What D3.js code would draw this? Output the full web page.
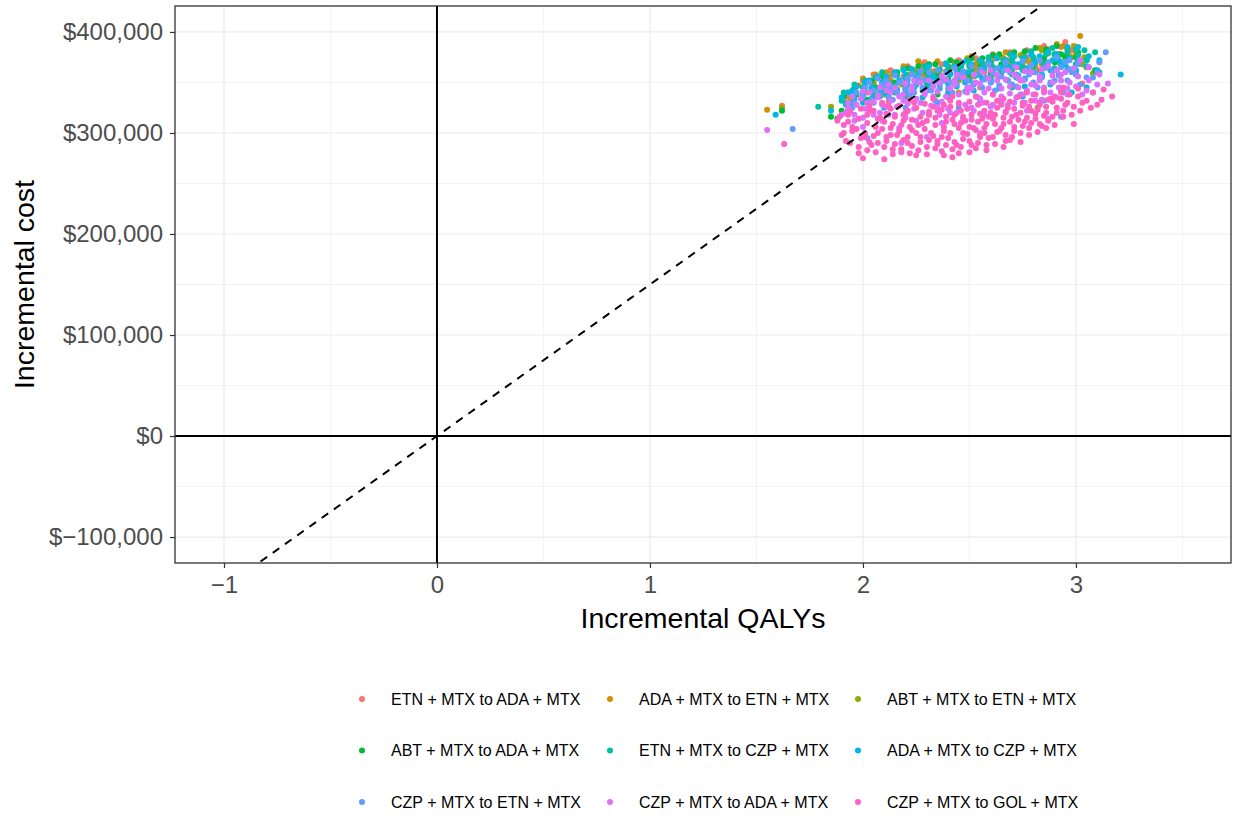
<!doctype html>
<html>
	<head>
		<meta charset="utf-8">
		<title>Incremental cost-effectiveness plane</title>
		<script src="https://d3js.org/d3.v7.min.js"></script>
		<style>
		body { margin: 0; background: #fff; }
		svg { font-family: "Liberation Sans", Arial, Helvetica, sans-serif; }
		</style>
	</head>
	<body>
		<svg id="chart" width="1235" height="824"></svg>
		<script>
		// comparisons, in legend order (ggplot hue palette)
		var comparisons = [
			"ETN + MTX to ADA + MTX", "ADA + MTX to ETN + MTX", "ABT + MTX to ETN + MTX",
			"ABT + MTX to ADA + MTX", "ETN + MTX to CZP + MTX", "ADA + MTX to CZP + MTX",
			"CZP + MTX to ETN + MTX", "CZP + MTX to ADA + MTX", "CZP + MTX to GOL + MTX"
		];
		var colors = ["#F8766D", "#D39200", "#93AA00", "#00BA38", "#00C19F", "#00B9E3", "#619CFF", "#DB72FB", "#FF61C3"];

		// [incremental QALYs, incremental cost in $ thousands]
		var etnToAda = [[1.62,327],[1.95,340],[2.01,347],[2.06,338],[2.10,350],[2.15,348],[2.19,356],[2.22,364],[2.27,352],[2.32,360],[2.36,354],[2.39,361],[2.44,366],[2.48,358],[2.53,368],[2.57,360],[2.61,373],[2.66,364],[2.70,368],[2.77,375],[2.81,366],[2.87,383],[2.91,372],[2.95,390],[3.00,378],[3.03,349],[2.55,345],[2.12,331],[2.74,352],
			[1.92,336],[2.00,352],[2.04,344],[2.05,358],[2.12,356],[2.13,362],[2.20,350],[2.21,366],[2.28,362],[2.29,370],[2.36,358],[2.37,368],[2.44,362],[2.45,372],[2.52,356],[2.53,374],[2.60,366],[2.61,378],[2.68,372],[2.69,380],[2.76,364],[2.77,382],[2.84,374],[2.85,386],[2.92,378],[2.93,385],[2.98,382]];
		var adaToEtn = [[1.55,323],[1.98,347],[2.02,340],[2.08,345],[2.13,352],[2.18,348],[2.22,358],[2.26,371],[2.30,355],[2.33,361],[2.38,352],[2.42,365],[2.46,358],[2.49,374],[2.53,362],[2.58,368],[2.62,358],[2.65,375],[2.70,373],[2.74,365],[2.78,370],[2.82,362],[2.86,380],[2.90,372],[2.94,386],[2.98,375],[3.02,396],[3.05,365],[2.45,340],[1.94,334],
			[1.92,330],[1.93,340],[2.00,354],[2.05,350],[2.06,358],[2.12,344],[2.11,360],[2.20,352],[2.19,366],[2.28,358],[2.27,368],[2.36,362],[2.35,371],[2.44,355],[2.43,370],[2.52,366],[2.51,376],[2.60,362],[2.59,374],[2.68,368],[2.67,380],[2.76,372],[2.75,378],[2.84,368],[2.83,384],[2.92,378],[2.91,388],[3.00,380],[2.99,386]];
		var abtToEtn = [[1.62,325],[1.85,326],[1.93,322],[2.00,335],[2.05,342],[2.10,338],[2.15,348],[2.20,343],[2.25,352],[2.30,346],[2.35,356],[2.40,350],[2.45,360],[2.50,354],[2.55,364],[2.60,357],[2.65,367],[2.70,360],[2.75,370],[2.80,363],[2.82,325],[2.87,379],[2.92,370],[2.97,376],[3.03,368],[3.08,359],[2.40,335],
			[1.95,332],[1.96,342],[2.05,348],[2.06,355],[2.15,345],[2.14,358],[2.25,348],[2.24,362],[2.35,360],[2.34,368],[2.45,352],[2.46,366],[2.55,358],[2.54,370],[2.65,361],[2.66,374],[2.75,366],[2.74,377],[2.85,370],[2.84,382],[2.95,374],[2.96,383],[3.05,365],[3.04,375]];
		var abtToAda = [[1.62,322],[1.85,316],[1.88,314],[1.92,330],[1.97,338],[2.02,333],[2.06,345],[2.11,350],[2.15,340],[2.20,355],[2.25,348],[2.30,360],[2.35,352],[2.40,362],[2.45,356],[2.50,366],[2.55,358],[2.60,368],[2.65,360],[2.70,372],[2.75,364],[2.80,374],[2.85,366],[2.90,378],[2.93,378],[2.95,370],[3.00,375],[3.09,362],[2.93,343],[2.35,338],
			[1.90,322],[1.91,336],[1.95,328],[1.96,345],[2.00,340],[2.01,350],[2.05,336],[2.04,352],[2.10,344],[2.09,356],[2.15,350],[2.16,360],[2.20,346],[2.21,364],[2.25,355],[2.26,366],[2.30,350],[2.31,368],[2.35,358],[2.34,368],[2.40,354],[2.41,372],[2.45,362],[2.44,370],[2.50,358],[2.51,374],[2.55,365],[2.56,374],[2.60,360],[2.61,377],[2.65,368],[2.64,378],[2.70,364],[2.71,380],[2.75,371],[2.76,381],[2.80,367],[2.81,384],[2.85,374],[2.86,383],[2.90,370],[2.91,386],[2.95,376],[2.96,384],[3.00,368],[3.01,380],[3.05,372]];
		var etnToCzp = [[1.79,326],[1.95,330],[2.00,345],[2.05,338],[2.10,352],[2.15,342],[2.20,358],[2.25,348],[2.30,362],[2.35,352],[2.40,366],[2.45,355],[2.50,368],[2.55,358],[2.60,370],[2.65,360],[2.70,372],[2.75,362],[2.80,375],[2.85,365],[2.90,378],[2.95,368],[3.00,383],[3.09,380],[3.08,340],[3.11,360],[2.40,340],[2.70,345],[2.20,335],
			[1.90,332],[1.91,340],[1.95,338],[1.96,348],[2.00,335],[2.01,352],[2.05,345],[2.06,355],[2.10,340],[2.11,350],[2.09,360],[2.15,347],[2.16,357],[2.20,343],[2.21,353],[2.19,363],[2.25,350],[2.26,360],[2.30,346],[2.31,356],[2.29,366],[2.35,353],[2.36,363],[2.40,349],[2.41,359],[2.39,369],[2.45,356],[2.46,366],[2.50,352],[2.51,362],[2.49,372],[2.55,359],[2.56,369],[2.60,355],[2.61,365],[2.59,375],[2.65,362],[2.66,372],[2.70,358],[2.71,368],[2.69,378],[2.75,365],[2.76,375],[2.80,361],[2.81,371],[2.79,381],[2.85,368],[2.86,378],[2.90,364],[2.91,374],[2.89,384],[2.95,371],[2.96,380],[3.00,368],[3.01,377],[3.05,372],[3.04,382]];
		var adaToCzp = [[1.59,318],[1.85,322],[1.90,335],[1.95,342],[2.00,330],[2.04,345],[2.08,336],[2.12,350],[2.16,340],[2.20,355],[2.24,345],[2.28,335],[2.32,358],[2.36,348],[2.40,338],[2.44,360],[2.48,350],[2.52,342],[2.56,362],[2.60,352],[2.64,344],[2.68,366],[2.72,355],[2.76,346],[2.80,368],[2.84,358],[2.88,348],[2.92,372],[2.96,385],[3.00,362],[3.01,385],[3.05,345],[3.21,358],[2.35,330],[2.55,330],[2.75,336],[2.10,325],[2.98,340],
			[1.92,328],[1.93,340],[1.96,334],[1.97,346],[2.00,338],[2.01,350],[2.04,334],[2.05,342],[2.03,352],[2.08,340],[2.09,350],[2.07,356],[2.12,337],[2.13,346],[2.11,356],[2.16,343],[2.17,352],[2.15,360],[2.20,340],[2.21,348],[2.19,362],[2.24,346],[2.25,356],[2.23,363],[2.28,342],[2.29,352],[2.27,360],[2.32,348],[2.33,355],[2.31,366],[2.36,344],[2.37,353],[2.35,362],[2.40,350],[2.41,358],[2.39,368],[2.44,346],[2.45,355],[2.43,366],[2.48,352],[2.49,360],[2.47,370],[2.52,348],[2.53,357],[2.51,368],[2.56,354],[2.57,364],[2.55,372],[2.60,350],[2.61,360],[2.59,370],[2.64,356],[2.65,365],[2.63,374],[2.68,352],[2.69,362],[2.67,372],[2.72,358],[2.73,368],[2.71,376],[2.76,354],[2.77,364],[2.75,374],[2.80,360],[2.81,370],[2.79,378],[2.84,356],[2.85,366],[2.83,376],[2.88,362],[2.89,372],[2.87,380],[2.92,358],[2.93,368],[2.91,378],[2.96,364],[2.97,374],[3.00,360],[3.01,372],[3.05,366],[3.06,376],[3.10,362],[3.11,372]];
		var czpToEtn = [[1.67,304],[2.02,295],[1.95,325],[2.00,338],[2.05,330],[2.10,345],[2.14,333],[2.18,350],[2.22,338],[2.26,355],[2.30,342],[2.34,332],[2.38,352],[2.42,340],[2.46,358],[2.50,345],[2.54,335],[2.58,355],[2.62,342],[2.66,362],[2.70,348],[2.74,338],[2.78,358],[2.82,345],[2.86,365],[2.90,352],[2.94,340],[2.98,360],[3.02,348],[3.14,380],[2.93,316],[2.97,372],[2.45,325],[2.65,330],[2.85,332],[2.20,325],[3.08,355],
			[1.96,330],[1.97,340],[2.00,336],[2.01,345],[2.04,333],[2.05,342],[2.03,350],[2.08,338],[2.09,348],[2.07,354],[2.12,335],[2.13,344],[2.11,352],[2.16,340],[2.17,350],[2.15,357],[2.20,344],[2.21,354],[2.24,340],[2.25,349],[2.23,358],[2.28,345],[2.29,353],[2.27,361],[2.32,342],[2.33,350],[2.31,360],[2.36,347],[2.37,356],[2.35,362],[2.40,344],[2.41,350],[2.39,360],[2.44,348],[2.45,355],[2.43,364],[2.48,341],[2.49,352],[2.47,361],[2.52,349],[2.53,358],[2.51,366],[2.56,345],[2.57,353],[2.55,363],[2.60,350],[2.61,359],[2.59,368],[2.64,347],[2.65,356],[2.63,364],[2.68,352],[2.69,360],[2.67,370],[2.72,346],[2.73,357],[2.71,366],[2.76,353],[2.77,362],[2.75,371],[2.80,350],[2.81,360],[2.79,367],[2.84,355],[2.85,364],[2.83,372],[2.88,350],[2.89,360],[2.87,370],[2.92,357],[2.93,365],[2.91,375],[2.96,352],[2.97,363],[2.95,370],[3.00,358],[3.01,368],[3.05,355],[3.06,365],[3.10,360],[3.11,370]];
		var czpToAda = [[1.55,303],[1.90,318],[1.93,325],[1.96,312],[2.00,306],[2.02,330],[2.05,318],[2.07,335],[2.09,312],[2.11,326],[2.13,340],[2.15,318],[2.17,305],[2.19,332],[2.21,322],[2.23,342],[2.25,312],[2.27,330],[2.29,338],[2.31,318],[2.33,346],[2.35,326],[2.37,310],[2.39,336],[2.41,320],[2.43,348],[2.45,330],[2.47,314],[2.49,340],[2.51,325],[2.53,350],[2.55,334],[2.57,318],[2.59,344],[2.61,328],[2.63,352],[2.65,336],[2.67,320],[2.69,346],[2.71,330],[2.73,354],[2.75,338],[2.77,322],[2.79,348],[2.81,332],[2.83,356],[2.85,340],[2.87,314],[2.89,350],[2.91,335],[2.93,358],[2.96,344],[3.02,372],[3.03,338],[3.06,365],[3.15,349],[2.30,296],[2.55,300],[2.18,290],
			[1.92,320],[1.93,330],[1.96,318],[1.97,328],[1.95,336],[2.00,315],[2.01,324],[1.99,334],[2.00,341],[2.04,322],[2.05,331],[2.03,340],[2.08,320],[2.09,328],[2.07,337],[2.08,345],[2.12,318],[2.13,332],[2.11,342],[2.12,348],[2.16,326],[2.17,336],[2.15,345],[2.20,315],[2.21,329],[2.19,338],[2.20,349],[2.24,324],[2.25,334],[2.23,346],[2.24,352],[2.28,320],[2.29,341],[2.27,350],[2.32,327],[2.33,336],[2.31,352],[2.36,318],[2.37,331],[2.35,341],[2.36,350],[2.37,356],[2.40,324],[2.41,344],[2.39,353],[2.44,320],[2.45,338],[2.43,352],[2.44,358],[2.48,328],[2.49,345],[2.47,355],[2.52,322],[2.53,336],[2.51,344],[2.52,358],[2.56,330],[2.57,340],[2.55,349],[2.56,360],[2.60,326],[2.61,338],[2.59,354],[2.60,362],[2.64,332],[2.65,344],[2.63,358],[2.68,328],[2.69,339],[2.67,353],[2.68,362],[2.72,335],[2.73,345],[2.71,358],[2.72,365],[2.76,330],[2.77,342],[2.75,352],[2.76,361],[2.80,338],[2.81,347],[2.79,360],[2.84,333],[2.85,345],[2.83,352],[2.84,363],[2.88,340],[2.89,357],[2.87,366],[2.92,345],[2.93,352],[2.91,362],[2.96,338],[2.97,350],[2.95,360],[3.00,346],[3.01,356],[2.99,364],[3.05,342],[3.06,352],[3.10,348],[3.11,358]];
		var czpToGol = [[1.63,289],[1.88,312],[1.91,300],[1.93,318],[1.95,306],[1.92,292],[1.98,280],[2.00,275],[2.01,296],[2.02,310],[2.03,322],[2.04,288],[2.07,300],[2.08,315],[2.10,274],[2.11,292],[2.12,327],[2.13,305],[2.14,284],[2.16,298],[2.18,281],[2.19,312],[2.20,320],[2.21,290],[2.23,303],[2.25,278],[2.24,330],[2.27,296],[2.28,310],[2.30,286],[2.31,318],[2.32,300],[2.33,326],[2.35,292],[2.34,308],[2.37,282],[2.38,302],[2.39,316],[2.40,295],[2.41,332],[2.42,276],[2.43,309],[2.44,288],[2.45,280],[2.46,322],[2.47,300],[2.48,312],[2.50,292],[2.51,318],[2.52,305],[2.53,285],[2.54,328],[2.55,298],[2.56,314],[2.58,288],[2.57,305],[2.60,320],[2.61,296],[2.62,309],[2.63,332],[2.64,302],[2.66,315],[2.67,292],[2.69,293],[2.68,325],[2.71,306],[2.72,318],[2.74,300],[2.75,330],[2.76,311],[2.78,305],[2.79,322],[2.81,314],[2.83,328],[2.84,307],[2.86,320],[2.88,334],[2.89,316],[2.91,325],[2.93,340],[2.94,316],[2.96,330],[2.99,309],[3.01,344],[3.05,332],[3.10,328],[3.17,336],
			[1.90,298],[1.91,308],[1.89,316],[1.94,290],[1.95,302],[1.93,311],[1.94,321],[1.98,286],[1.99,295],[1.97,304],[1.98,314],[1.99,324],[2.02,283],[2.03,291],[2.01,300],[2.02,318],[2.03,327],[2.06,281],[2.07,290],[2.05,297],[2.06,306],[2.07,314],[2.05,322],[2.10,286],[2.11,296],[2.09,304],[2.10,311],[2.11,319],[2.09,330],[2.14,279],[2.15,289],[2.13,298],[2.14,309],[2.15,316],[2.13,324],[2.18,284],[2.19,293],[2.17,302],[2.18,308],[2.19,318],[2.17,327],[2.22,280],[2.23,287],[2.21,296],[2.22,306],[2.23,313],[2.21,322],[2.22,333],[2.26,283],[2.27,291],[2.25,300],[2.26,308],[2.27,316],[2.25,325],[2.30,279],[2.31,293],[2.29,304],[2.30,312],[2.31,321],[2.29,329],[2.34,285],[2.35,289],[2.33,297],[2.34,315],[2.35,322],[2.33,334],[2.38,278],[2.39,288],[2.37,296],[2.38,306],[2.39,311],[2.37,323],[2.38,328],[2.42,284],[2.43,291],[2.41,300],[2.42,313],[2.43,318],[2.41,326],[2.42,336],[2.46,286],[2.47,294],[2.45,305],[2.46,310],[2.47,316],[2.45,329],[2.50,281],[2.51,288],[2.49,299],[2.50,306],[2.51,313],[2.49,324],[2.50,331],[2.54,290],[2.55,296],[2.53,303],[2.54,311],[2.55,319],[2.53,336],[2.58,283],[2.59,295],[2.57,300],[2.58,309],[2.59,316],[2.57,322],[2.58,330],[2.62,289],[2.63,301],[2.61,314],[2.62,318],[2.63,325],[2.61,338],[2.66,286],[2.67,298],[2.65,305],[2.66,309],[2.67,321],[2.65,328],[2.66,334],[2.70,296],[2.71,302],[2.69,311],[2.70,316],[2.71,324],[2.69,331],[2.74,291],[2.75,307],[2.73,313],[2.74,320],[2.75,327],[2.73,336],[2.78,298],[2.79,310],[2.77,315],[2.78,326],[2.79,332],[2.77,340],[2.82,301],[2.83,309],[2.81,319],[2.82,323],[2.83,330],[2.81,338],[2.86,305],[2.87,312],[2.85,317],[2.86,326],[2.87,333],[2.85,342],[2.90,308],[2.91,320],[2.89,331],[2.90,336],[2.94,322],[2.95,328],[2.93,334],[2.94,345],[2.98,318],[2.99,326],[2.97,338],[3.02,322],[3.03,330],[3.01,336],[3.07,325],[3.08,340],[3.12,333],[3.13,343]];

		var series = [etnToAda, adaToEtn, abtToEtn, abtToAda, etnToCzp, adaToCzp, czpToEtn, czpToAda, czpToGol];

		var xTicks = [-1, 0, 1, 2, 3];
		var xMinor = [-0.5, 0.5, 1.5, 2.5, 3.5];
		var yTicks = [-100000, 0, 100000, 200000, 300000, 400000];
		var yMinor = [-50000, 50000, 150000, 250000, 350000];
		var wtp = 150000; // willingness-to-pay line, $ per QALY

		var svg = d3.select("#chart");
		var margin = {left: 175, top: 6, right: 4, bottom: 261};
		var width = 1235 - margin.left - margin.right;
		var height = 824 - margin.top - margin.bottom;

		var x = d3.scaleLinear().domain([-1.23, 3.728]).range([0, width]);
		var y = d3.scaleLinear().domain([-125700, 425700]).range([height, 0]);

		var g = svg.append("g").attr("transform", "translate(" + margin.left + "," + margin.top + ")");

		svg.append("defs").append("clipPath").attr("id", "panel")
			.append("rect").attr("width", width).attr("height", height);

		// grid
		g.selectAll(".minor-x").data(xMinor).enter().append("line")
			.attr("x1", x).attr("x2", x).attr("y1", 0).attr("y2", height)
			.attr("stroke", "#EBEBEB").attr("stroke-width", 0.6);
		g.selectAll(".minor-y").data(yMinor).enter().append("line")
			.attr("y1", y).attr("y2", y).attr("x1", 0).attr("x2", width)
			.attr("stroke", "#EBEBEB").attr("stroke-width", 0.6);
		g.selectAll(".major-x").data(xTicks).enter().append("line")
			.attr("x1", x).attr("x2", x).attr("y1", 0).attr("y2", height)
			.attr("stroke", "#EBEBEB").attr("stroke-width", 1.2);
		g.selectAll(".major-y").data(yTicks).enter().append("line")
			.attr("y1", y).attr("y2", y).attr("x1", 0).attr("x2", width)
			.attr("stroke", "#EBEBEB").attr("stroke-width", 1.2);

		var plot = g.append("g").attr("clip-path", "url(#panel)");

		// points, drawn series by series so the last one ends up on top
		series.forEach(function(pts, i) {
			plot.append("g").selectAll("circle").data(pts).enter().append("circle")
				.attr("cx", function(d) { return x(d[0]); })
				.attr("cy", function(d) { return y(d[1] * 1000); })
				.attr("r", 3)
				.attr("fill", colors[i]);
		});

		// reference lines
		plot.append("line")
			.attr("x1", x(0)).attr("x2", x(0)).attr("y1", 0).attr("y2", height)
			.attr("stroke", "#000").attr("stroke-width", 2);
		plot.append("line")
			.attr("y1", y(0)).attr("y2", y(0)).attr("x1", 0).attr("x2", width)
			.attr("stroke", "#000").attr("stroke-width", 2);
		var xd = x.domain();
		plot.append("line")
			.attr("x1", x(xd[0])).attr("y1", y(wtp * xd[0]))
			.attr("x2", x(xd[1])).attr("y2", y(wtp * xd[1]))
			.attr("stroke", "#000").attr("stroke-width", 2)
			.attr("stroke-dasharray", "8,7");

		g.append("rect").attr("width", width).attr("height", height)
			.attr("fill", "none").attr("stroke", "#333").attr("stroke-width", 1.3);

		// axes
		var minus = function(s) { return s.replace("-", "\u2212"); };
		var xAxis = g.append("g").attr("transform", "translate(0," + height + ")")
			.call(d3.axisBottom(x).tickValues(xTicks).tickSize(5).tickPadding(8)
				.tickFormat(function(d) { return minus(String(d)); }));
		var yAxis = g.append("g")
			.call(d3.axisLeft(y).tickValues(yTicks).tickSize(5).tickPadding(7)
				.tickFormat(function(d) { return "$" + minus(d3.format(",")(d)); }));
		[xAxis, yAxis].forEach(function(a) {
			a.select(".domain").remove();
			a.selectAll(".tick line").attr("stroke", "#333").attr("stroke-width", 1.2);
			a.selectAll(".tick text").attr("fill", "#4D4D4D").style("font-size", "24px")
				.style("font-family", "'Liberation Sans', Arial, sans-serif");
		});

		svg.append("text")
			.attr("x", margin.left + width / 2).attr("y", 628)
			.attr("text-anchor", "middle").style("font-size", "28.5px")
			.text("Incremental QALYs");
		svg.append("text")
			.attr("transform", "translate(34," + (margin.top + height / 2) + ") rotate(-90)")
			.attr("text-anchor", "middle").style("font-size", "28.5px")
			.text("Incremental cost");

		// legend, 3 columns by row
		var legend = svg.append("g");
		comparisons.forEach(function(name, i) {
			var col = i % 3, row = Math.floor(i / 3);
			var lx = 362 + col * 248, ly = 699 + row * 51.5;
			legend.append("circle").attr("cx", lx).attr("cy", ly).attr("r", 3).attr("fill", colors[i]);
			legend.append("text").attr("x", lx + 29).attr("y", ly).attr("dy", "0.35em")
				.style("font-size", "16px").text(name);
		});
		</script>
	</body>
</html>
